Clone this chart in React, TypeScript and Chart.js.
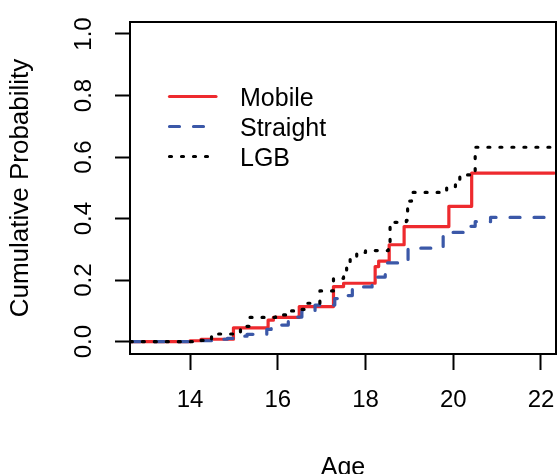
import React, { useEffect, useRef } from 'react';
import { Chart, registerables } from 'chart.js';

Chart.register(...registerables);

// Step-function data (age at which cumulative probability jumps, value after the jump)
const mobileAge = [12.64, 14.0, 14.25, 14.99, 15.78, 15.9, 16.49, 17.27, 17.5, 18.22, 18.3, 18.54, 18.88, 19.9, 20.42, 22.3];
const mobileProb = [0, 0.003, 0.008, 0.045, 0.07, 0.079, 0.114, 0.179, 0.19, 0.244, 0.262, 0.315, 0.374, 0.44, 0.548, 0.548];

const straightAge = [12.64, 14.1, 14.6, 14.85, 15.1, 15.3, 15.75, 15.85, 16.24, 16.55, 16.85, 17.3, 17.55, 17.7, 17.9, 18.15, 18.28, 18.45, 18.5, 18.8, 18.97, 19.77, 20.35, 20.5, 20.85, 22.3];
const straightProb = [0, 0.003, 0.008, 0.011, 0.018, 0.024, 0.04, 0.054, 0.08, 0.098, 0.119, 0.14, 0.15, 0.17, 0.178, 0.19, 0.21, 0.235, 0.256, 0.262, 0.304, 0.355, 0.375, 0.39, 0.404, 0.404];

const lgbAge = [12.64, 14.2, 14.49, 15.15, 15.35, 15.95, 16.2, 16.4, 16.66, 16.96, 17.27, 17.5, 17.57, 17.65, 17.8, 18.0, 18.52, 18.56, 18.93, 18.96, 19.05, 19.85, 20.05, 20.15, 20.45, 20.5, 22.3];
const lgbProb = [0, 0.004, 0.025, 0.05, 0.079, 0.087, 0.1, 0.105, 0.125, 0.165, 0.206, 0.217, 0.25, 0.277, 0.29, 0.296, 0.315, 0.388, 0.394, 0.457, 0.485, 0.504, 0.515, 0.542, 0.55, 0.632, 0.632];

const seriesNames = ['Mobile', 'Straight', 'LGB'];
const xTicks = [14, 16, 18, 20, 22];
const yTicks = [0, 0.2, 0.4, 0.6, 0.8, 1.0];

const FONT = "'Liberation Sans', Arial, Helvetica, sans-serif";
const RED = '#EE2A2E';
const BLUE = '#3B58A8';
const BLACK = '#000000';

export default function App() {
  const ref = useRef<HTMLCanvasElement>(null);

  useEffect(() => {
    if (!ref.current) return;
    const toPts = (a: number[], p: number[]) => a.map((x, i) => ({ x, y: p[i] }));

    const boxPlugin = {
      id: 'boxPlugin',
      afterDraw(chart: any) {
        const { ctx, chartArea: a } = chart;
        ctx.save();
        ctx.strokeStyle = '#000';
        ctx.lineWidth = 2;
        ctx.strokeRect(a.left, a.top, a.right - a.left, a.bottom - a.top);
        ctx.restore();
      },
    };

    const legendPlugin = {
      id: 'rLegend',
      afterDraw(chart: any) {
        const { ctx } = chart;
        const rows = chart.data.datasets
          .map((d: any, i: number) => ({ d, i }))
          .sort((p: any, q: any) => p.d.legendRow - q.d.legendRow);
        ctx.save();
        rows.forEach(({ d }: any, k: number) => {
          const base = 106 + k * 30;
          const ly = base - 9.5;
          ctx.beginPath();
          ctx.strokeStyle = d.borderColor;
          ctx.lineWidth = d.borderWidth;
          ctx.lineCap = 'round';
          ctx.setLineDash(d.borderDash || []);
          ctx.moveTo(169.5, ly);
          ctx.lineTo(216, ly);
          ctx.stroke();
          ctx.setLineDash([]);
          ctx.fillStyle = '#000';
          ctx.font = `25px ${FONT}`;
          ctx.textBaseline = 'alphabetic';
          ctx.textAlign = 'left';
          ctx.fillText(d.label, 240, base);
        });
        ctx.restore();
      },
    };

    const chart = new Chart(ref.current, {
      type: 'line',
      data: {
        datasets: [
          {
            label: seriesNames[0],
            data: toPts(mobileAge, mobileProb),
            borderColor: RED,
            borderWidth: 3.2,
            stepped: 'before',
            order: 3,
            legendRow: 0,
            borderCapStyle: 'round',
            borderJoinStyle: 'round',
          } as any,
          {
            label: seriesNames[1],
            data: toPts(straightAge, straightProb),
            borderColor: BLUE,
            borderWidth: 3.2,
            borderDash: [10, 14],
            stepped: 'before',
            order: 2,
            legendRow: 1,
            borderCapStyle: 'round',
            borderJoinStyle: 'round',
          } as any,
          {
            label: seriesNames[2],
            data: toPts(lgbAge, lgbProb),
            borderColor: BLACK,
            borderWidth: 3.2,
            borderDash: [2, 10],
            stepped: 'before',
            order: 1,
            legendRow: 2,
            borderCapStyle: 'round',
            borderJoinStyle: 'round',
          } as any,
        ],
      },
      options: {
        responsive: false,
        animation: false,
        devicePixelRatio: 1,
        layout: { padding: { left: 0, right: 1, top: 22, bottom: 0 } },
        plugins: { legend: { display: false }, tooltip: { enabled: false } },
        elements: { point: { radius: 0 }, line: { tension: 0 } },
        scales: {
          x: {
            type: 'linear',
            min: 12.632,
            max: 22.342,
            afterBuildTicks: (s: any) => {
              s.ticks = xTicks.map((v) => ({ value: v }));
            },
            afterFit: (s: any) => {
              s.height = 120;
              s.paddingLeft = 0;
              s.paddingRight = 0;
              s.paddingTop = 0;
              s.paddingBottom = 0;
            },
            border: { display: false },
            grid: {
              drawOnChartArea: false,
              drawTicks: true,
              tickLength: 16,
              tickWidth: 2,
              tickColor: '#000',
              color: '#000',
            },
            ticks: {
              color: '#000',
              font: { family: FONT, size: 24 },
              padding: 16,
              maxRotation: 0,
              autoSkip: false,
              callback: (v: any) => String(v),
            },
            title: {
              display: true,
              text: 'Age',
              color: '#000',
              font: { family: FONT, size: 25, lineHeight: 0.5 },
              padding: 0,
            },
          },
          y: {
            type: 'linear',
            min: -0.04,
            max: 1.039,
            afterBuildTicks: (s: any) => {
              s.ticks = yTicks.map((v) => ({ value: v }));
            },
            afterFit: (s: any) => {
              s.width = 130;
              s.paddingLeft = 0;
              s.paddingRight = 0;
              s.paddingTop = 0;
              s.paddingBottom = 0;
            },
            border: { display: false },
            grid: {
              drawOnChartArea: false,
              drawTicks: true,
              tickLength: 15,
              tickWidth: 2,
              tickColor: '#000',
              color: '#000',
            },
            ticks: {
              color: '#000',
              font: { family: FONT, size: 24 },
              padding: 14,
              minRotation: 90,
              maxRotation: 90,
              crossAlign: 'center',
              autoSkip: false,
              callback: (v: any) => Number(v).toFixed(1),
            },
            title: {
              display: true,
              text: 'Cumulative Probability',
              color: '#000',
              font: { family: FONT, size: 26 },
              padding: { top: 5, bottom: 0 },
            },
          },
        },
      } as any,
      plugins: [boxPlugin, legendPlugin],
    });
    return () => chart.destroy();
  }, []);

  return (
    <div style={{ position: 'fixed', left: 0, top: 0, width: 557, height: 474, background: '#fff' }}>
      <canvas ref={ref} width={557} height={474} style={{ display: 'block', width: 557, height: 474 }} />
    </div>
  );
}
